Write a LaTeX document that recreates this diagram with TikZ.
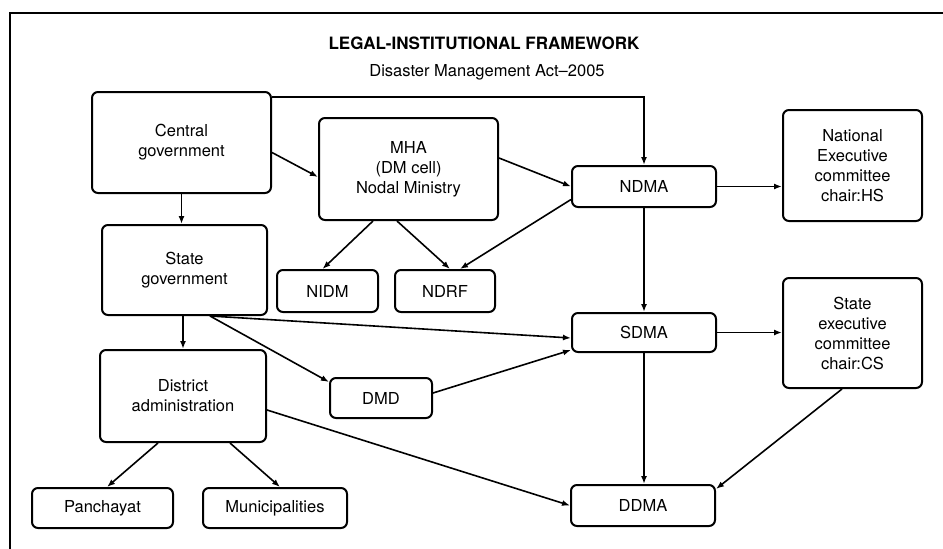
\documentclass[tikz,border=0pt]{standalone}
\usepackage{fontspec}
\setmainfont{TeX Gyre Heros}
\usetikzlibrary{arrows.meta}
\tikzset{
  blk/.style={draw, rounded corners=6pt, line width=2pt, align=center, inner sep=0pt,
    font=\fontsize{16.5}{20}\selectfont},
  con/.style={-{Latex[length=8pt,width=6pt]}, line width=1.6pt},
}
\begin{document}
\begin{tikzpicture}[x=1pt,y=-1pt]
  \useasboundingbox (0,0) rectangle (943,549);
  % frame
  \draw[line width=2pt] (943,13) -- (10,13) -- (10,549);
  \node[font=\fontsize{17}{20}\selectfont\bfseries] (title) at (484,43) {LEGAL-INSTITUTIONAL FRAMEWORK};
  \node[font=\fontsize{16.5}{20}\selectfont] (act) at (487,72) {Disaster Management Act--2005};
  % national level
  \node[blk,minimum width=179pt,minimum height=101pt] (cg) at (181.5,142.5) {Central\\government};
  \node[blk,minimum width=179pt,minimum height=102pt] (mha) at (408.5,169) {MHA\\(DM cell)\\Nodal Ministry};
  \node[blk,minimum width=144pt,minimum height=41pt] (ndma) at (644,186.5) {NDMA};
  \node[blk,minimum width=139pt,minimum height=111pt] (nec) at (852.5,165.5) {National\\Executive\\committee\\chair:HS};
  \node[blk,minimum width=101pt,minimum height=42pt] (nidm) at (327.5,291) {NIDM};
  \node[blk,minimum width=100pt,minimum height=42pt] (ndrf) at (445,291) {NDRF};
  % state level
  \node[blk,minimum width=165pt,minimum height=90pt] (sg) at (184.5,270) {State\\government};
  \node[blk,minimum width=144pt,minimum height=39pt] (sdma) at (644,332.5) {SDMA};
  \node[blk,minimum width=139pt,minimum height=110pt] (sec) at (852.5,333) {State\\executive\\committee\\chair:CS};
  \node[blk,minimum width=102pt,minimum height=40pt] (dmd) at (381,398) {DMD};
  % district level
  \node[blk,minimum width=166pt,minimum height=92pt] (da) at (183,396) {District\\administration};
  \node[blk,minimum width=144pt,minimum height=41pt] (ddma) at (643,505.5) {DDMA};
  \node[blk,minimum width=141pt,minimum height=40pt] (pan) at (102.5,508) {Panchayat};
  \node[blk,minimum width=144pt,minimum height=40pt] (mun) at (275,508) {Municipalities};
  % connectors
  \draw[con] ([yshift=-6pt]cg.north east) -| (ndma.north);
  \draw[con] ([yshift=-10pt]cg.east) -- ([yshift=-8pt]mha.west);
  \draw[con] (cg.south) -- (cg.south |- sg.north);
  \draw[con] ([yshift=11pt]mha.east) -- (ndma.west);
  \draw[con] ([xshift=-35.5pt]mha.south) -- ([xshift=-5pt]nidm.north);
  \draw[con] ([xshift=-11.5pt]mha.south) -- ([xshift=5pt]ndrf.north);
  \draw[con] ([yshift=-13pt]ndma.west) -- ([xshift=15pt]ndrf.north);
  \draw[con] (ndma.east) -- (ndma.east -| nec.west);
  \draw[con] (ndma.south) -- (sdma.north);
  \draw[con] ([xshift=25.5pt]sg.south) -- ([yshift=-5.5pt]sdma.west);
  \draw[con] ([xshift=25.5pt]sg.south) -- ([yshift=-5pt]dmd.north west);
  \draw[con] ([yshift=5pt]dmd.east) -- ([yshift=3pt]sdma.south west);
  \draw[con] (sdma.east) -- (sdma.east -| sec.west);
  \draw[con] (sdma.south) -- (sdma.south |- ddma.north);
  \draw[con] ([xshift=-10.5pt]sec.south) -- ([yshift=-5pt]ddma.north east);
  \draw[con] (sg.south -| da.north) -- (da.north);
  \draw[con] ([yshift=-14pt]da.east) -- (ddma.west);
  \draw[con] ([xshift=-25pt]da.south) -- ([xshift=4.5pt]pan.north);
  \draw[con] ([xshift=47pt]da.south) -- ([xshift=5pt]mun.north);
\end{tikzpicture}
\end{document}
